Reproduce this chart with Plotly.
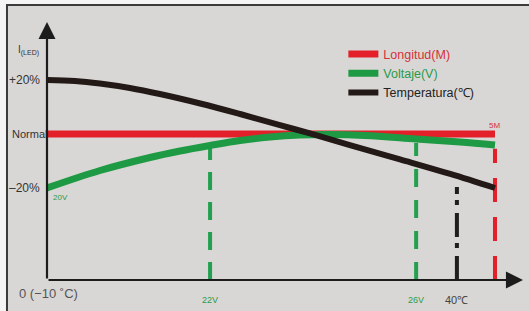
import plotly.graph_objects as go

# ---------------- data ----------------
# x: relative position along the horizontal axis (0 = origin, 100 = 5M end)
# y: relative LED current in % (100 = Normal)
temp_x = [0, 6.25, 11.8, 18.5, 25.2, 34.2, 43.1, 52.0, 58.7, 67.6, 78.8, 90.0, 100]
temp_y = [120, 119.63, 118.7, 117.04, 114.81, 111.3, 107.4, 103.3, 100.2, 95.9, 90.6, 85.2, 80]

volt_x = [0, 11.83, 22.99, 29.69, 36.38, 43.08, 49.78, 56.47, 63.17, 70.98, 82.37, 92.19, 100]
volt_y = [80, 86.48, 91.3, 93.7, 95.74, 97.6, 98.9, 99.63, 99.81, 99.44, 98.15, 97.04, 95.93]

len_x = [0, 100]
len_y = [100, 100]

marker_labels = ["22V", "26V", "40℃", "5M"]
marker_x = [36.4, 82.4, 91.5, 100]
marker_top = [94.8, 96.7, 80.4, 94.5]

tick_vals = [120, 100, 80]
tick_text = ["+20%", "Normal", "–20%"]
origin_label = "0 (−10 ˚C)"
start_label = "20V"
end_label = "5M"
y_axis_label = "I<sub>(LED)</sub>"

series_names = ["Longitud(M)", "Voltaje(V)", "Temperatura(℃)"]

Y0 = 45.93   # value of the horizontal axis line
X_MAX = 106.7
Y_MAX = 144.07

RED = "#e3202a"
GREEN = "#1f9a44"
BLACK = "#231a17"
FONT = "Liberation Sans, Arial, sans-serif"

fig = go.Figure()

# vertical guide lines (drawn first, beneath curves)
guide_styles = [
    dict(color="#23a04f", dash="18px,12px"),
    dict(color="#23a04f", dash="18px,13px"),
    dict(color="#1e1e1e", dash="24px,8px,5px,6px"),
    dict(color="#e3202a", dash="24px,15px"),
]
for mx, top, st in zip(marker_x, marker_top, guide_styles):
    fig.add_trace(go.Scatter(
        x=[mx, mx], y=[Y0, top], mode="lines",
        line=dict(color=st["color"], width=4, dash=st["dash"]),
        showlegend=False, hoverinfo="skip"))

legend_colors = ["#d6303a", "#2a9a48", "#222222"]
fig.add_trace(go.Scatter(
    x=len_x, y=len_y, mode="lines", line=dict(color=RED, width=7),
    name=f"<span style='color:{legend_colors[0]}'>{series_names[0]}</span>"))
fig.add_trace(go.Scatter(
    x=volt_x, y=volt_y, mode="lines", line=dict(color=GREEN, width=7, shape="spline", smoothing=1.0),
    name=f"<span style='color:{legend_colors[1]}'>{series_names[1]}</span>"))
fig.add_trace(go.Scatter(
    x=temp_x, y=temp_y, mode="lines", line=dict(color=BLACK, width=6, shape="spline", smoothing=1.0),
    name=f"<span style='color:{legend_colors[2]}'>{series_names[2]}</span>"))

ann = []
# y tick labels
for v, t in zip(tick_vals, tick_text):
    if t == "Normal":
        ann.append(dict(x=0, y=v, text=t, xanchor="left", xshift=-37, showarrow=False,
                        font=dict(family=FONT, size=11, color="#333333")))
    else:
        ann.append(dict(x=0, y=v, text=t, xanchor="right", xshift=-5, showarrow=False,
                        font=dict(family=FONT, size=12, color="#333333")))
ann.append(dict(x=0, y=131, text=y_axis_label, xanchor="left", xshift=-31, showarrow=False,
                font=dict(family=FONT, size=10, color="#333333")))
ann.append(dict(x=0, y=Y0, text=origin_label, xanchor="left", xshift=-30, yshift=-13,
                showarrow=False, font=dict(family=FONT, size=13, color="#555555")))
# bottom marker labels
lab_cols = ["#2a9a48", "#2a9a48", "#444444"]
lab_sizes = [9, 9, 11]
for lab, mx, c, s in zip(marker_labels[:3], marker_x[:3], lab_cols, lab_sizes):
    ann.append(dict(x=mx, y=Y0, text=lab, yshift=-20, showarrow=False,
                    font=dict(family=FONT, size=s, color=c)))
ann.append(dict(x=volt_x[0], y=volt_y[0], text=start_label, xanchor="left", xshift=4, yshift=-9,
                showarrow=False, font=dict(family=FONT, size=8, color="#2a9a48")))
ann.append(dict(x=len_x[-1], y=len_y[-1], text=end_label, yshift=9,
                showarrow=False, font=dict(family=FONT, size=8, color="#d6303a")))
# axes with arrowheads
ann.append(dict(x=0, y=141.5, ax=0, ay=Y0, axref="x", ayref="y", text="", showarrow=True,
                arrowhead=2, arrowwidth=2.2, arrowsize=1.55, arrowcolor="#1c1c1c"))
ann.append(dict(x=106.25, y=Y0, ax=0, ay=Y0, axref="x", ayref="y", text="", showarrow=True,
                arrowhead=2, arrowwidth=2.2, arrowsize=1.55, arrowcolor="#1c1c1c"))

fig.update_layout(
    width=529, height=311, autosize=False,
    margin=dict(l=47, r=4, t=15, b=31, pad=0),
    paper_bgcolor="#f4f4f4", plot_bgcolor="rgba(0,0,0,0)",
    xaxis=dict(visible=False, range=[0, X_MAX], fixedrange=True),
    yaxis=dict(visible=False, range=[Y0, Y_MAX], fixedrange=True),
    annotations=ann,
    showlegend=True,
    legend=dict(x=0.62, y=0.908, xanchor="left", yanchor="top",
                bgcolor="rgba(0,0,0,0)", font=dict(family=FONT, size=12.5, color="#222"),
                itemclick=False, itemdoubleclick=False),
    shapes=[dict(type="rect", xref="paper", yref="paper",
                 x0=-0.0837, x1=1.05, y0=-0.2, y1=1.0377,
                 line=dict(color="#3a3a3a", width=2), fillcolor="#d9d7d5", layer="below")],
    font=dict(family=FONT),
)

fig.write_html("out.html", config={"displayModeBar": False})

with open("out.html", encoding="utf-8") as f:
    html = f.read()
html = html.replace("<body>", "<body style=\"margin:0;padding:0;overflow:hidden\">", 1)
with open("out.html", "w", encoding="utf-8") as f:
    f.write(html)
